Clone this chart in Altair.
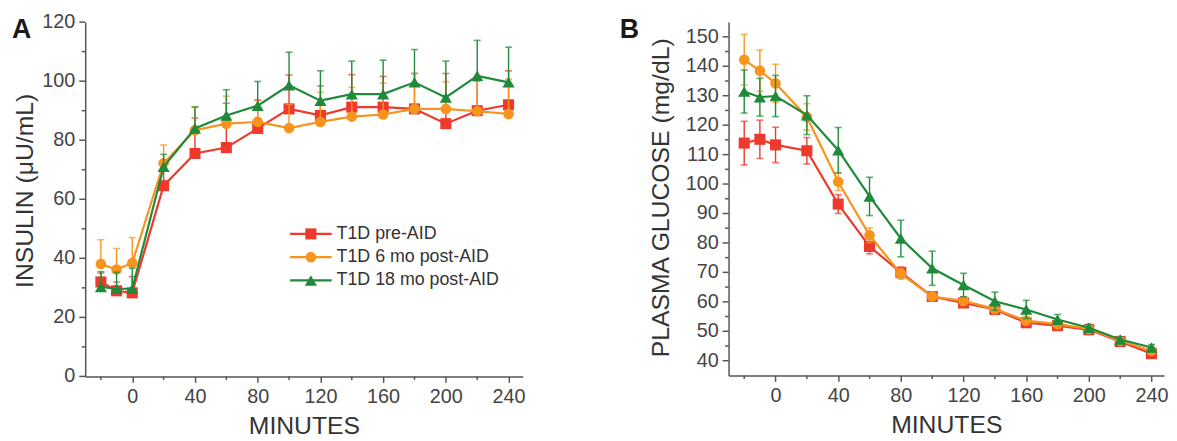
import altair as alt
import pandas as pd

minutes = [-20, -10, 0, 20, 40, 60, 80, 100, 120, 140, 160, 180, 200, 220, 240]
series = ["T1D pre-AID", "T1D 6 mo post-AID", "T1D 18 mo post-AID"]
colors = ["#EE3A2C", "#F7941E", "#1F8A3B"]
shapes = ["square", "circle", "triangle-up"]
sizes = [125, 115, 150]

# Panel A: insulin (uU/mL), upper error bars
ins_pre = [32.0, 29.0, 28.3, 64.6, 75.5, 77.5, 84.0, 90.6, 88.4, 91.2, 91.2, 90.6, 85.6, 90.0, 92.0]
ins_pre_se = [3.0, 3.0, 5.5, 8.0, 12.0, 15.0, 9.5, 11.5, 10.0, 11.0, 10.4, 12.0, 17.0, 10.0, 11.5]
ins_6 = [38.1, 36.2, 38.4, 72.2, 83.4, 85.6, 86.2, 84.1, 86.2, 88.0, 88.7, 90.6, 90.6, 89.8, 88.9]
ins_6_se = [8.2, 7.1, 8.6, 6.2, 8.0, 9.3, 7.5, 8.0, 10.0, 9.9, 10.6, 12.0, 9.2, 12.0, 11.8]
ins_18 = [30.3, 29.7, 29.7, 71.0, 84.0, 88.4, 91.7, 98.6, 93.4, 95.6, 95.6, 99.6, 94.5, 101.8, 99.6]
ins_18_se = [5.2, 5.6, 6.9, 4.2, 7.2, 8.7, 8.2, 11.2, 10.1, 11.2, 11.5, 11.1, 12.3, 12.0, 11.9]

# Panel B: plasma glucose (mg/dL), symmetric error bars
glu_pre = [113.9, 115.2, 113.3, 111.3, 93.2, 78.8, 70.0, 61.8, 59.6, 57.4, 52.9, 51.9, 50.5, 46.5, 42.4]
glu_pre_se = [7.4, 6.5, 6.0, 4.5, 3.2, 2.5, 1.8, 1.5, 1.3, 1.3, 1.2, 1.1, 1.1, 1.0, 1.0]
glu_6 = [142.2, 138.5, 134.2, 122.8, 100.8, 82.6, 69.5, 61.8, 60.3, 57.6, 53.6, 52.4, 50.8, 46.8, 43.4]
glu_6_se = [8.6, 7.0, 6.5, 4.5, 3.0, 2.5, 1.8, 1.5, 1.4, 1.3, 1.2, 1.1, 1.0, 1.0, 1.0]
glu_18 = [131.4, 129.5, 129.9, 123.4, 111.5, 95.8, 81.5, 71.4, 65.7, 60.2, 57.4, 54.0, 51.2, 47.2, 44.5]
glu_18_se = [7.3, 6.4, 7.0, 6.6, 7.7, 6.5, 6.2, 5.8, 4.0, 3.1, 3.1, 1.7, 1.2, 1.0, 1.0]

# axis ticks
x_major = [0, 40, 80, 120, 160, 200, 240]
x_minor = [-20, 20, 60, 100, 140, 180, 220]
ya_major = [0, 20, 40, 60, 80, 100, 120]
ya_minor = [10, 30, 50, 70, 90, 110]
yb_major = [40, 50, 60, 70, 80, 90, 100, 110, 120, 130, 140, 150]
yb_minor = [45, 55, 65, 75, 85, 95, 105, 115, 125, 135, 145]

FONT = "Liberation Sans"
AXIS_COLOR = "#555555"
LABEL_COLOR = "#444444"


def make_df(vals_list, se_list, upper_only):
    rows = []
    for s, vals, ses in zip(series, vals_list, se_list):
        for m, v, e in zip(minutes, vals, ses):
            rows.append({"series": s, "minutes": m, "value": v,
                         "hi": v + e, "lo": v if upper_only else v - e})
    return pd.DataFrame(rows)


def panel(df, xdomain, ydomain, ymajor, yminor, ytitle, title_x, title_y, letter, letter_x,
          w, h, upper_only, legend):
    xs = alt.Scale(domain=xdomain, nice=False, zero=False)
    ys = alt.Scale(domain=ydomain, nice=False, zero=False)
    xaxis = alt.Axis(values=x_major, tickSize=6, labelOverlap=False,
                     title="MINUTES", titleY=50, titleBaseline="middle")
    # y axis: domain line and title; ticks and labels are drawn from the tick lists below
    yaxis = alt.Axis(values=ymajor, ticks=False, labels=False,
                     title=ytitle, titleX=title_x, titleY=title_y, titleAngle=-90,
                     titleAlign="center", titleBaseline="middle")
    Xn = alt.X("minutes:Q", scale=xs)
    base = alt.Chart(df)
    layers = []

    for idx, (s, c, sh, sz) in enumerate(zip(series, colors, shapes, sizes)):
        b = base.transform_filter(alt.datum.series == s)
        if idx == 0:
            # first layer carries the axes
            layers.append(b.mark_line(color=c, strokeWidth=2.2).encode(
                x=alt.X("minutes:Q", scale=xs, axis=xaxis),
                y=alt.Y("value:Q", scale=ys, axis=yaxis)))
            # x minor ticks (outward)
            layers.append(alt.Chart(pd.DataFrame({"v": x_minor})).mark_rule(
                color=AXIS_COLOR, strokeWidth=1.5).encode(
                x=alt.X("v:Q", scale=xs), y=alt.value(h), y2=alt.value(h + 3.5)))
            # y minor ticks, major ticks and labels
            layers.append(alt.Chart(pd.DataFrame({"v": yminor})).mark_rule(
                color=AXIS_COLOR, strokeWidth=1.5).encode(
                y=alt.Y("v:Q", scale=ys), x=alt.value(-3.5), x2=alt.value(0)))
            ymaj = alt.Chart(pd.DataFrame({"v": ymajor}))
            layers.append(ymaj.mark_rule(color=AXIS_COLOR, strokeWidth=1.5).encode(
                y=alt.Y("v:Q", scale=ys), x=alt.value(-6), x2=alt.value(0)))
            layers.append(ymaj.mark_text(font=FONT, fontSize=20, color=LABEL_COLOR,
                                         align="right", baseline="middle").encode(
                y=alt.Y("v:Q", scale=ys), x=alt.value(-10), text=alt.Text("v:Q", format="d")))
        layers.append(b.mark_rule(color=c, strokeWidth=1.4).encode(
            x=Xn, y=alt.Y("lo:Q", scale=ys), y2="hi:Q"))
        layers.append(b.mark_tick(color=c, orient="horizontal", size=7, thickness=1.6).encode(
            x=Xn, y=alt.Y("hi:Q", scale=ys)))
        if not upper_only:
            layers.append(b.mark_tick(color=c, orient="horizontal", size=7, thickness=1.6).encode(
                x=Xn, y=alt.Y("lo:Q", scale=ys)))
        if idx > 0:
            layers.append(b.mark_line(color=c, strokeWidth=2.2).encode(
                x=Xn, y=alt.Y("value:Q", scale=ys)))
        layers.append(b.mark_point(filled=True, opacity=1, color=c, shape=sh, size=sz).encode(
            x=Xn, y=alt.Y("value:Q", scale=ys)))

    letter_df = pd.DataFrame({"t": [letter]})
    layers.append(alt.Chart(letter_df).mark_text(
        font=FONT, fontSize=27, fontWeight="bold", align="left", baseline="middle",
        color="#1a1a1a").encode(text="t:N", x=alt.value(letter_x), y=alt.value(8)))

    if legend:
        for i, (s, c, sh, sz) in enumerate(zip(series, colors, shapes, sizes)):
            ldf = pd.DataFrame({"s": [s]})
            yy = 214 + 23.5 * i
            lb = alt.Chart(ldf)
            layers.append(lb.mark_rule(color=c, strokeWidth=2.2).encode(
                x=alt.value(207), x2=alt.value(249), y=alt.value(yy)))
            layers.append(lb.mark_point(filled=True, opacity=1, color=c, shape=sh, size=sz).encode(
                x=alt.value(228), y=alt.value(yy)))
            layers.append(lb.mark_text(font=FONT, fontSize=18, align="left", baseline="middle",
                                       color="#333333").encode(
                text="s:N", x=alt.value(254), y=alt.value(yy)))

    return alt.layer(*layers).properties(width=w, height=h)


dfA = make_df([ins_pre, ins_6, ins_18], [ins_pre_se, ins_6_se, ins_18_se], True)
dfB = make_df([glu_pre, glu_6, glu_18], [glu_pre_se, glu_6_se, glu_18_se], False)

pA = panel(dfA, [-30, 249], [0, 120], ya_major, ya_minor, "INSULIN (μU/mL)", -61, 170,
           "A", -74, 442, 358, True, True)
pB = panel(dfB, [-30, 248], [35, 155], yb_major, yb_minor, "PLASMA GLUCOSE (mg/dL)", -69, 177,
           "B", -110, 440, 357, False, False)

chart = alt.hconcat(pA, pB, spacing=95).properties(
    padding={"left": 4, "top": 2, "right": 0, "bottom": 0}
).configure_view(stroke=None).configure_axis(
    grid=False, labelOverlap=False,
    labelFont=FONT, labelFontSize=20, labelColor=LABEL_COLOR, labelPadding=4,
    titleFont=FONT, titleFontSize=25, titleFontWeight="normal", titleColor="#333333",
    domainColor=AXIS_COLOR, domainWidth=1.5, tickColor=AXIS_COLOR, tickWidth=1.5,
)

chart.save("out.html", embed_options={"renderer": "svg", "actions": False})
